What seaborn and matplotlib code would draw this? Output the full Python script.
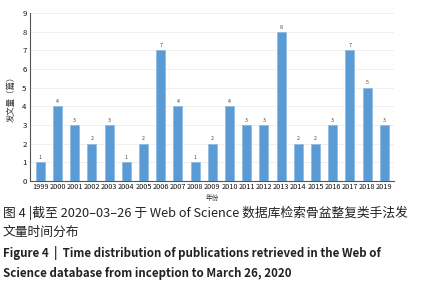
import matplotlib
matplotlib.use("Agg")
import matplotlib.pyplot as plt
import seaborn as sns
import pandas as pd

# data
years = [str(y) for y in range(1999, 2020)]
counts = [1, 4, 3, 2, 3, 1, 2, 7, 4, 1, 2, 4, 3, 3, 8, 2, 2, 3, 7, 5, 3]

sns.set_style("white")
plt.rcParams["font.family"] = ["Noto Sans CJK SC", "DejaVu Sans"]

df = pd.DataFrame({"year": years, "n": counts})

fig = plt.figure(figsize=(4.23, 2.85), dpi=100)
ax = fig.add_axes([0.071, 0.365, 0.86, 0.589])

sns.barplot(data=df, x="year", y="n", color="#5b9bd5", saturation=1,
            width=0.52, edgecolor="#86b4e0", linewidth=0.4, ax=ax, zorder=3)

for i, v in enumerate(counts):
    ax.text(i, v + 0.12, str(v), ha="center", va="bottom", fontsize=3.8,
            color="#444444")

ax.set_ylim(0, 9)
ax.set_yticks(range(10))
ax.set_xlim(-0.6, len(years) - 0.45)
ax.grid(axis="y", color="#ececec", linewidth=0.6, zorder=0)
for s in ["top", "right"]:
    ax.spines[s].set_visible(False)
ax.spines["left"].set_color("#555555")
ax.spines["bottom"].set_color("#555555")
ax.spines["left"].set_linewidth(0.8)
ax.spines["bottom"].set_linewidth(0.8)
ax.tick_params(axis="x", labelsize=5.3, length=0, pad=1.5, colors="#111111")
ax.tick_params(axis="y", labelsize=5.6, length=2, width=0.6, pad=0.5, colors="#111111")
ax.set_xlabel("年份", fontsize=4.8, labelpad=2, color="#333333")
ax.set_ylabel("发文量（篇）", fontsize=6, labelpad=5, color="#333333")

fig.text(0.007, 0.252, "图 4 |截至 2020–03–26 于 Web of Science 数据库检索骨盆整复类手法发",
         fontsize=9.2, color="#222222", va="center")
fig.text(0.007, 0.186, "文量时间分布", fontsize=9.2, color="#222222", va="center")
fig.text(0.007, 0.112, "Figure 4  |  Time distribution of publications retrieved in the Web of",
         fontsize=8.3, fontweight="bold", color="#222222", va="center")
fig.text(0.007, 0.042, "Science database from inception to March 26, 2020",
         fontsize=8.3, fontweight="bold", color="#222222", va="center")

fig.savefig("out.png", dpi=100)
